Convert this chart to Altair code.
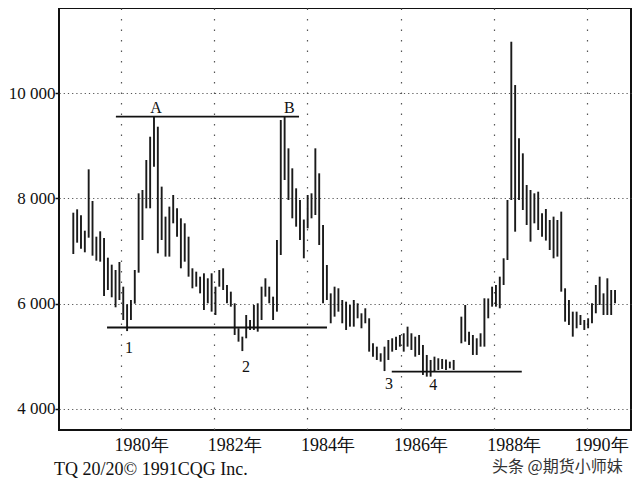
import altair as alt
import pandas as pd

# Monthly high / low bars, starting early 1979 (None = no bar that month)
highs = [7730, 7794, 7680, 7388, 8554, 7952, 7274, 7376, 7249, 6875, 6742, 6641, 6793, 6324, 5989, 6071, 6641, 8098, 8161, 8731,
         9174, 9550, 9364, 8225, 7655, 7845, 8066, 7813, 7623, 7528, 7274, 6673, 6609, 6514, 6578, 6483, 6578, 6324, 6641, 6673,
         6356, 6229, 6008, 5533, 5374, 5786, 5691, 5976, 6008, 6324, 6483, 6324, 6134, 7211, 9491, 9555, 8953, 8573, 8193, 7971,
         7600, 8066, 8098, 8953, 8478, 7496, 6736, 6197, 6324, 6293, 6071, 6039, 5976, 6071, 6008, 5818, 5913, 5723, 5248, 5184,
         5058, 5184, 5311, 5343, 5374, 5406, 5438, 5564, 5438, 5374, 5406, 5216, 5026, 4931, 4994, 4963, 4950, 4940, 4899, 4931,
         None, 5754, 5976, 5469, 5406, 5343, 5438, 6103, 6100, 6324, 6356, 6514, 6863, 7971, 10979, 10156, 9143, 8858, 8256, 8161,
         8098, 8129, 7718, 7800, 7591, 7655, 7591, 7750, 6293, 6071, 5849, 5849, 5786, 5691, 5723, 6008, 6356, 6514, 6197, 6483,
         6261, 6261]
lows = [6945, 7160, 7046, 6977, 7255, 6913, 6818, 6799, 6147, 6261, 6122, 5932, 6071, 5691, 5480, 5691, 6001, 6590, 7211, 7813,
        7813, 8605, 6958, 7211, 6895, 6895, 7528, 7274, 6673, 6799, 6514, 6293, 6324, 6197, 5881, 6008, 5849, 5786, 6324, 6261,
        6008, 5944, 5406, 5279, 5100, 5343, 5501, 5501, 5469, 5691, 6134, 6008, 5691, 5849, 6926, 8351, 7971, 7623, 7464, 7211,
        6863, 7433, 7623, 7686, 7116, 6008, 6071, 5628, 5754, 5849, 5628, 5501, 5564, 5564, 5723, 5533, 5628, 5089, 4994, 4931,
        4899, 4720, 4931, 5089, 5121, 5184, 5089, 5184, 5121, 4994, 5026, 4646, 4614, 4614, 4709, 4741, 4760, 4741, 4773, 4741,
        None, 5248, 5279, 5216, 5026, 5026, 5184, 5184, 5723, 5944, 5944, 5913, 6356, 6831, 7971, 7369, 7971, 7781, 7496, 7179,
        7528, 7401, 7274, 7200, 7021, 6863, 6895, 6229, 5659, 5596, 5374, 5533, 5596, 5501, 5533, 5628, 5818, 5976, 5786, 5786,
        5786, 6008]
first_month = 1978.976
month_step = 0.08245

# Horizontal support / resistance lines
line_start = [1979.89, 1979.70, 1985.81]
line_end = [1983.82, 1984.42, 1988.60]
line_level = [9554, 5548, 4708]

# Point labels
ann_text = ["A", "B", "1", "2", "3", "4"]
ann_t = [1980.75, 1983.61, 1980.17, 1982.68, 1985.75, 1986.70]
ann_v = [9720, 9720, 5158, 4797, 4474, 4455]

year_ticks = [1980, 1982, 1984, 1986, 1988, 1990]
price_ticks = [4000, 6000, 8000, 10000]
footer = "TQ 20/20\u00a9 1991CQG Inc."
watermark = "头条 @期货小师妹"

t = [first_month + i * month_step for i in range(len(highs))]
bars_df = pd.DataFrame({"t": t, "high": highs, "low": lows}).dropna()
lines_df = pd.DataFrame({"t1": line_start, "t2": line_end, "v": line_level})
ann_df = pd.DataFrame({"label": ann_text, "t": ann_t, "v": ann_v})

SERIF = "Liberation Serif"
xscale = alt.Scale(domain=[1978.669, 1990.944], nice=False, zero=False)
yscale = alt.Scale(domain=[3600, 11620], nice=False, zero=False)

bars = alt.Chart(bars_df).mark_rule(color="#1a1a1a", strokeWidth=1.9).encode(
    x=alt.X("t:Q", scale=xscale, title=None,
            axis=alt.Axis(values=year_ticks, labelExpr="datum.value + '年'",
                          grid=True, gridDash=[1.5, 9], gridColor="#555", gridWidth=1.2,
                          ticks=False, domain=False, labelFont=SERIF, labelFontSize=18,
                          labelColor="#111",
                          labelOffset={"condition": {"test": "datum.value >= 1990", "value": 14}, "value": 20},
                          labelPadding=6)),
    y=alt.Y("low:Q", scale=yscale, title=None,
            axis=alt.Axis(values=price_ticks,
                          labelExpr="replace(format(datum.value, ','), ',', ' ')",
                          grid=True, gridDash=[1.2, 3], gridColor="#555", gridWidth=1.1,
                          ticks=True, tickSize=4, tickColor="#111", tickWidth=1.5,
                          domain=False, labelFont=SERIF, labelFontSize=17,
                          labelColor="#111", labelPadding=0)),
    y2="high:Q",
)

hlines = alt.Chart(lines_df).mark_rule(color="#111", strokeWidth=1.8).encode(
    x="t1:Q", x2="t2:Q", y="v:Q"
)

ann = alt.Chart(ann_df).mark_text(font=SERIF, fontSize=16, color="#111", baseline="middle").encode(
    x="t:Q", y="v:Q", text="label:N"
)

foot = alt.Chart(pd.DataFrame({"txt": [footer]})).mark_text(
    font=SERIF, fontSize=18, color="#111", align="left", baseline="alphabetic"
).encode(x=alt.value(-5), y=alt.value(467), text="txt:N")

wm = alt.Chart(pd.DataFrame({"txt": [watermark]})).mark_text(
    font="Noto Sans CJK SC", fontSize=16, color="#333", align="left", baseline="middle"
).encode(x=alt.value(433), y=alt.value(459), text="txt:N")

chart = alt.layer(bars, hlines, ann, foot, wm).properties(
    width=572, height=422,
    padding={"left": 51, "top": 0, "right": 1, "bottom": 50},
    autosize=alt.AutoSizeParams(type="none"),
    background="white",
).configure_view(stroke="#111", strokeWidth=2)

chart.save("out.html", embed_options={"renderer": "svg", "actions": False})
